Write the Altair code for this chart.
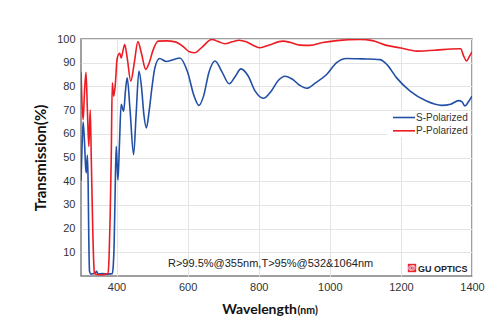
import altair as alt
import pandas as pd

# ---- data ----
series = ["S-Polarized", "P-Polarized"]
colors = ["#2350a5", "#ec1c24"]

s_wl = [300, 303, 306, 310, 313, 315, 318, 320, 322, 324, 328, 335, 340, 344, 348, 360, 375, 388,
        391, 393, 396, 399, 402, 404, 408, 413, 420, 425, 430, 438, 448, 455, 463, 470, 477, 484,
        492, 500, 508, 521, 540, 578, 600, 618, 632, 645, 660, 677, 697, 717, 733, 750, 770, 790,
        813, 835, 855, 874, 895, 915, 935, 960, 991, 1019, 1047, 1090, 1141, 1160, 1188, 1226,
        1272, 1315, 1340, 1362, 1372, 1380, 1390, 1400]
s_t = [40, 55, 65, 56, 46, 43.5, 51, 40, 15, 2, 0.8, 1, 1.2, 2, 0.8, 1, 0.8, 1,
       5, 12, 35, 54.7, 46, 40.5, 55, 72.4, 69.5, 78, 83.6, 70, 51.2, 68, 86.5, 80, 68, 62.5,
       70, 80, 88, 91.8, 90.5, 92, 86, 76, 72, 76, 86, 90.7, 86, 81.1, 84, 87.4, 84.5, 78,
       75, 78, 82.5, 84.3, 83, 80.5, 79.2, 81.5, 85, 90, 91.8, 91.6, 91.3, 89.3, 83.6, 78,
       73.8, 72, 72.5, 74, 73.5, 71.7, 73.5, 75.9]

p_wl = [300, 303, 306, 310, 314, 318, 322, 326, 329, 333, 336, 338, 350, 360, 370, 376, 379,
        382, 385, 388, 392, 396, 402, 409, 413, 418, 423, 430, 440, 450, 460, 470, 482, 492,
        502, 517, 540, 565, 590, 605, 620, 640, 668, 685, 705, 725, 745, 765, 785, 804, 830,
        868, 890, 916, 944, 980, 1020, 1085, 1120, 1160, 1200, 1244, 1300, 1340, 1368, 1376,
        1385, 1392, 1400]
p_t = [86, 72, 66, 78, 86, 70, 54.7, 70, 49, 20, 5, 1, 0.5, 0.5, 0.8, 1, 8,
       25, 49, 81.5, 75.9, 80, 92, 94, 92, 95, 97.7, 92, 82.2, 90, 98.9, 94, 87.2, 90,
       95, 99.1, 99.2, 98.8, 96.5, 94.6, 94.2, 96.5, 99.8, 99, 98, 98.8, 99.5, 98.8, 97.3, 96.3, 97.5,
       99.1, 98.5, 97.4, 97.3, 98.5, 99.3, 99.8, 99.3, 97.3, 96.2, 94.9, 95.3, 95.8, 95.9, 93,
       90.7, 92.5, 94.6]

x_ticks = [400, 600, 800, 1000, 1200, 1400]
y_ticks = [10, 20, 30, 40, 50, 60, 70, 80, 90, 100]

note = "R>99.5%@355nm,T>95%@532&1064nm"
brand = "GU OPTICS"

df = pd.concat([
    pd.DataFrame({"wl": s_wl, "t": s_t, "series": series[0]}),
    pd.DataFrame({"wl": p_wl, "t": p_t, "series": series[1]}),
])

W, H = 391, 237
lab_font = "Liberation Sans"
title_font = "Lato"

lines = alt.Chart(df).mark_line(interpolate="monotone", strokeWidth=1.6, clip=True).encode(
    x=alt.X("wl:Q", scale=alt.Scale(domain=[300, 1400], nice=False, zero=False),
            axis=alt.Axis(values=x_ticks, format="d", title=None, ticks=False, domain=False,
                          labelFlush=False,
                          labelFont=lab_font, labelFontSize=11, labelColor="#333",
                          labelPadding=5, gridColor="#e4e4e4")),
    y=alt.Y("t:Q", scale=alt.Scale(domain=[0, 100], nice=False),
            axis=alt.Axis(values=y_ticks, title="Transmission(%)", ticks=False, domain=False,
                          labelFont=lab_font, labelFontSize=11, labelColor="#333",
                          labelPadding=6, gridColor="#e4e4e4",
                          titleFont=title_font, titleFontSize=15, titleFontWeight="bold",
                          titleColor="#111", titlePadding=8)),
    color=alt.Color("series:N", scale=alt.Scale(domain=series, range=colors), legend=None),
)

# legend (manual)
one = pd.DataFrame({"a": [0]})
leg_bg = alt.Chart(one).mark_rect(fill="white").encode(
    x=alt.value(306), x2=alt.value(389), y=alt.value(72), y2=alt.value(98))
leg_s_rule = alt.Chart(one).mark_rule(color=colors[0], strokeWidth=1.6).encode(
    x=alt.value(312), x2=alt.value(334), y=alt.value(78.5))
leg_p_rule = alt.Chart(one).mark_rule(color=colors[1], strokeWidth=1.6).encode(
    x=alt.value(312), x2=alt.value(334), y=alt.value(91.8))
leg_s_txt = alt.Chart(one).mark_text(
    text=series[0], align="left", baseline="middle", font=lab_font, fontSize=10, color="#333").encode(
    x=alt.value(335), y=alt.value(78.5))
leg_p_txt = alt.Chart(one).mark_text(
    text=series[1], align="left", baseline="middle", font=lab_font, fontSize=10, color="#333").encode(
    x=alt.value(335), y=alt.value(91.8))

note_txt = alt.Chart(one).mark_text(
    text=note, align="left", baseline="middle", font=lab_font, fontSize=11, color="#222").encode(
    x=alt.value(87), y=alt.value(224.5))

logo_sq = alt.Chart(one).mark_square(
    size=70, color="#e8262e", opacity=1).encode(x=alt.value(331), y=alt.value(229))
logo_sym = alt.Chart(one).mark_text(
    text="@", align="center", baseline="middle", font=lab_font, fontSize=8, fontWeight="bold",
    color="white").encode(x=alt.value(331), y=alt.value(229))
brand_txt = alt.Chart(one).mark_text(
    text=brand, align="left", baseline="middle", font=lab_font, fontSize=9, fontWeight="bold",
    color="#222").encode(x=alt.value(337), y=alt.value(229.5))

xt1 = alt.Chart(one).mark_text(
    text="Wavelength", align="right", baseline="alphabetic", font=title_font, fontSize=14,
    fontWeight="bold", color="#111").encode(x=alt.value(216), y=alt.value(275))
xt2 = alt.Chart(one).mark_text(
    text="(nm)", align="left", baseline="alphabetic", font=title_font, fontSize=10.5,
    fontWeight="bold", color="#111").encode(x=alt.value(216.5), y=alt.value(275))

chart = alt.layer(
    lines, leg_bg, leg_s_rule, leg_p_rule, leg_s_txt, leg_p_txt,
    note_txt, logo_sq, logo_sym, brand_txt, xt1, xt2
).properties(
    width=W, height=H,
    autosize=alt.AutoSizeParams(type="none"),
    padding={"left": 81, "top": 39, "right": 28, "bottom": 58},
    background="white",
).configure_view(stroke="#808080", strokeWidth=1.5)

chart.save("out.html", embed_options={"renderer": "svg", "actions": False})
